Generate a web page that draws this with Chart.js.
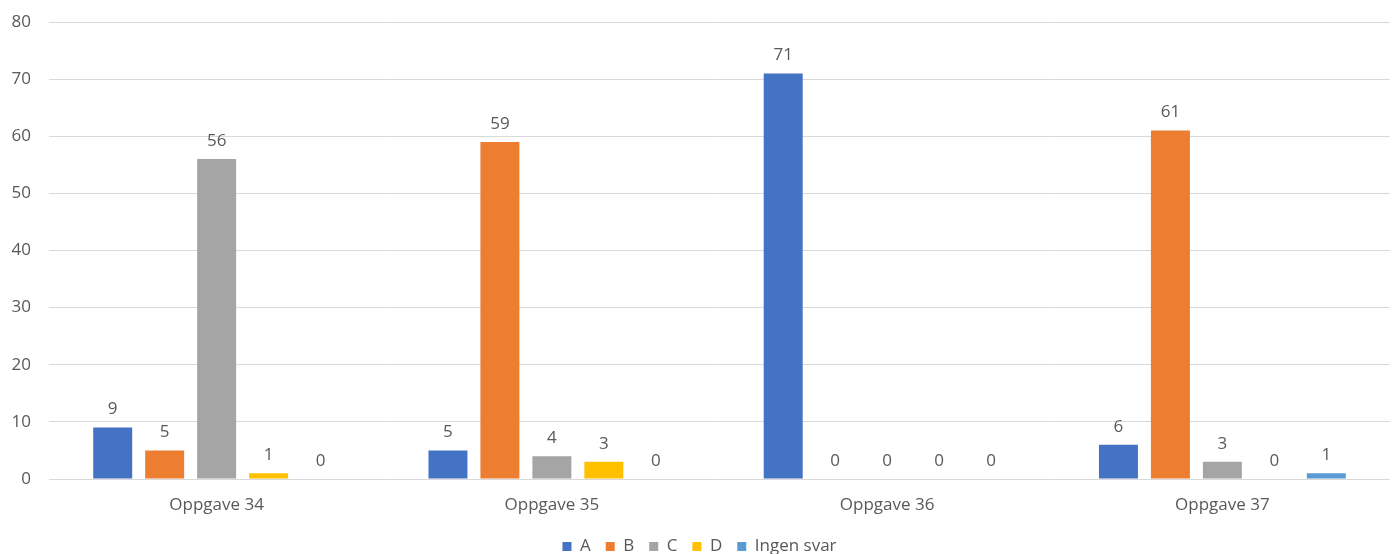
<!DOCTYPE html>
<html>
<head>
<meta charset="utf-8">
<script src="https://cdn.jsdelivr.net/npm/chart.js@4/dist/chart.umd.min.js"></script>
<style>
  html, body { margin: 0; padding: 0; background: #fff; }
  #wrap { width: 1397px; height: 554px; }
</style>
</head>
<body>
<div id="wrap"><canvas id="chart" width="1397" height="554"></canvas></div>
<script>
// Answer counts per task
const categories = ['Oppgave 34', 'Oppgave 35', 'Oppgave 36', 'Oppgave 37'];
const seriesNames = ['A', 'B', 'C', 'D', 'Ingen svar'];
const valuesA = [9, 5, 71, 6];
const valuesB = [5, 59, 0, 61];
const valuesC = [56, 4, 0, 3];
const valuesD = [1, 3, 0, 0];
const valuesNone = [0, 0, 0, 1];
const yTicks = [0, 10, 20, 30, 40, 50, 60, 70, 80];

const colors = ['#4472C4', '#ED7D31', '#A5A5A5', '#FFC000', '#5B9BD5'];
const textColor = '#595959';
const fontFamily = '"Open Sans", "Noto Sans", sans-serif';
const fontSize = 17;

// Value labels above every bar
const valueLabels = {
    id: 'valueLabels',
    afterDatasetsDraw(chart) {
        const ctx = chart.ctx;
        ctx.save();
        ctx.font = fontSize + 'px ' + fontFamily;
        ctx.fillStyle = textColor;
        ctx.textAlign = 'center';
        ctx.textBaseline = 'middle';
        chart.data.datasets.forEach((ds, i) => {
            const meta = chart.getDatasetMeta(i);
            meta.data.forEach((bar, j) => {
                ctx.fillText(String(ds.data[j]), bar.x, bar.y - 18);
            });
        });
        ctx.restore();
    }
};

// Keep gaps between legend items but a compact legend box
const legendHeight = {
    id: 'legendHeight',
    beforeLayout(chart) {
        const lg = chart.legend;
        if (lg && !lg._fitWrapped) {
            const fit = lg.fit.bind(lg);
            lg.fit = function () { fit(); this.height = 31; };
            lg._fitWrapped = true;
        }
    }
};

const allValues = [valuesA, valuesB, valuesC, valuesD, valuesNone];

new Chart(document.getElementById('chart').getContext('2d'), {
    type: 'bar',
    data: {
        labels: categories,
        datasets: seriesNames.map((name, i) => ({
            label: name,
            data: allValues[i],
            backgroundColor: colors[i],
            borderWidth: 0,
            categoryPercentage: 0.775,
            barPercentage: 0.75
        }))
    },
    options: {
        responsive: false,
        animation: false,
        layout: { padding: { left: 9, right: 7, top: 22, bottom: 0 } },
        scales: {
            x: {
                afterFit: s => { s.height = 44; },
                grid: { display: false },
                border: { display: false },
                ticks: { color: textColor, font: { family: fontFamily, size: fontSize }, padding: 8 }
            },
            y: {
                min: 0,
                max: 80,
                afterBuildTicks: s => { s.ticks = yTicks.map(v => ({ value: v })); },
                afterFit: s => { s.width = 40; s.paddingTop = 0; s.paddingBottom = 0; },
                grid: { color: '#d9d9d9', lineWidth: 1, drawTicks: false },
                border: { display: false },
                ticks: { color: textColor, font: { family: fontFamily, size: fontSize }, padding: 18 }
            }
        },
        plugins: {
            legend: {
                position: 'bottom',
                labels: {
                    color: textColor,
                    font: { family: fontFamily, size: fontSize },
                    boxWidth: 9,
                    boxHeight: 9,
                    padding: 15
                }
            },
            tooltip: { enabled: false }
        }
    },
    plugins: [valueLabels, legendHeight]
});
</script>
</body>
</html>
